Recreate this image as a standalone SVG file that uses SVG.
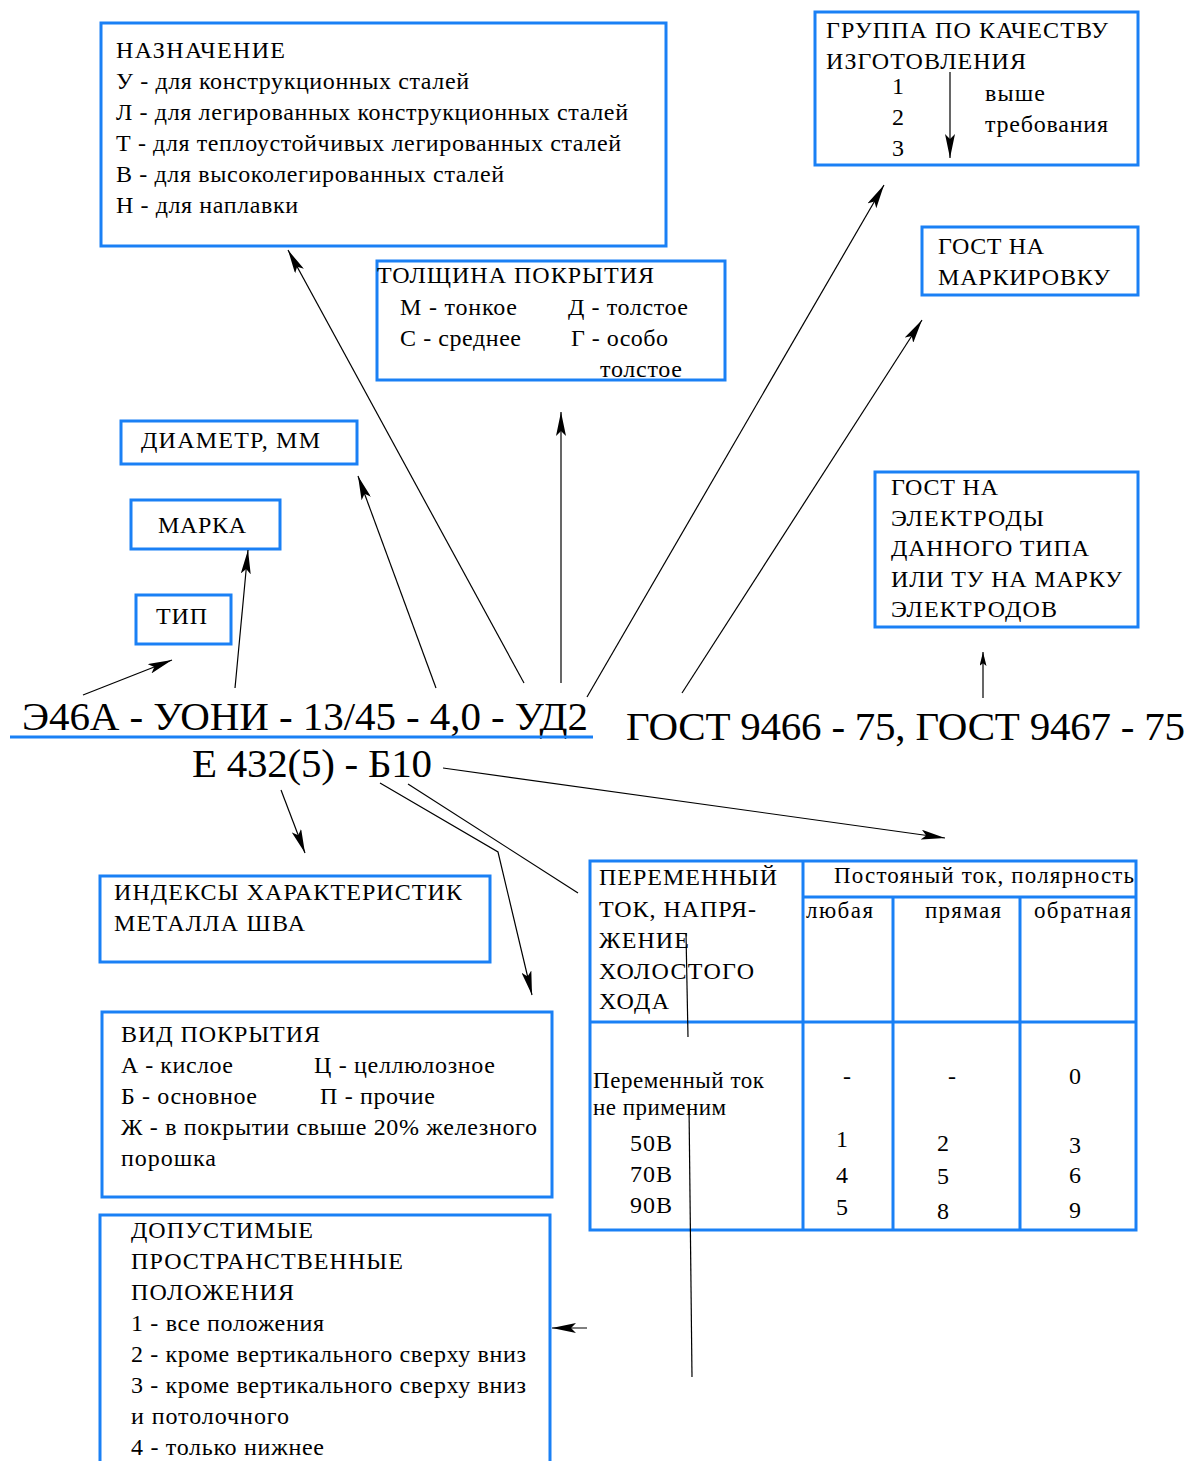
<svg xmlns="http://www.w3.org/2000/svg" width="1190" height="1461" viewBox="0 0 1190 1461">
<defs>
<marker id="ah" viewBox="0 0 24 10" refX="24" refY="5" markerWidth="24" markerHeight="10" markerUnits="userSpaceOnUse" orient="auto"><path d="M0,0 L24,5 L0,10 L5,5 z" fill="#000"/></marker>
<marker id="ahs" viewBox="0 0 20 10" refX="20" refY="5" markerWidth="14" markerHeight="7" markerUnits="userSpaceOnUse" orient="auto"><path d="M0,0 L20,5 L0,10 L4,5 z" fill="#000"/></marker>
</defs>
<style>
.b{fill:none;stroke:#1a80f5;stroke-width:3}
.t{font-family:"Liberation Serif","Times New Roman",serif;font-size:24px;fill:#000}
.s{font-size:23px}
.big{font-family:"Liberation Serif","Times New Roman",serif;font-size:41px;fill:#000}
.c{fill:none;stroke:#000;stroke-width:1.2}
.a{marker-end:url(#ah)}
</style>
<rect width="1190" height="1461" fill="#fff"/>

<g id="naznachenie">
<rect class="b" x="101" y="23" width="565" height="223"/>
<text class="t" x="116" y="58" textLength="169">НАЗНАЧЕНИЕ</text>
<text class="t" x="116" y="89" textLength="353">У - для конструкционных сталей</text>
<text class="t" x="116" y="120" textLength="512">Л - для легированных конструкционных сталей</text>
<text class="t" x="116" y="151" textLength="505">Т - для теплоустойчивых легированных сталей</text>
<text class="t" x="116" y="182" textLength="388">В - для высоколегированных сталей</text>
<text class="t" x="116" y="213" textLength="182">Н - для наплавки</text>
</g>

<g id="tolshchina">
<rect class="b" x="377" y="261" width="348" height="119"/>
<text class="t" x="377" y="283" textLength="277">ТОЛЩИНА ПОКРЫТИЯ</text>
<text class="t" x="400" y="315" textLength="117">М - тонкое</text>
<text class="t" x="568" y="315" textLength="120">Д - толстое</text>
<text class="t" x="400" y="346" textLength="121">С - среднее</text>
<text class="t" x="571" y="346" textLength="97">Г - особо</text>
<text class="t" x="600" y="377" textLength="82">толстое</text>
</g>

<g id="diametr">
<rect class="b" x="121" y="421" width="236" height="43"/>
<text class="t" x="141" y="448" textLength="179">ДИАМЕТР, ММ</text>
</g>

<g id="marka">
<rect class="b" x="131" y="500" width="149" height="49"/>
<text class="t" x="158" y="533" textLength="88">МАРКА</text>
</g>

<g id="tip">
<rect class="b" x="136" y="595" width="95" height="49"/>
<text class="t" x="156" y="624" textLength="51">ТИП</text>
</g>

<g id="gruppa">
<rect class="b" x="815" y="12" width="323" height="153"/>
<text class="t" x="826" y="38" textLength="282">ГРУППА ПО КАЧЕСТВУ</text>
<text class="t" x="826" y="69" textLength="200">ИЗГОТОВЛЕНИЯ</text>
<text class="t" x="892" y="94">1</text>
<text class="t" x="892" y="125">2</text>
<text class="t" x="892" y="156">3</text>
<text class="t" x="985" y="101" textLength="60">выше</text>
<text class="t" x="985" y="132" textLength="123">требования</text>
<line class="c a" x1="950" y1="72" x2="950" y2="158"/>
</g>

<g id="gost-markirovka">
<rect class="b" x="922" y="227" width="216" height="68"/>
<text class="t" x="938" y="254" textLength="106">ГОСТ НА</text>
<text class="t" x="938" y="285" textLength="172">МАРКИРОВКУ</text>
</g>

<g id="gost-elektrody">
<rect class="b" x="875" y="472" width="263" height="155"/>
<text class="t" x="891" y="495" textLength="107">ГОСТ НА</text>
<text class="t" x="891" y="526" textLength="153">ЭЛЕКТРОДЫ</text>
<text class="t" x="891" y="556" textLength="198">ДАННОГО ТИПА</text>
<text class="t" x="891" y="587" textLength="231">ИЛИ ТУ НА МАРКУ</text>
<text class="t" x="891" y="617" textLength="166">ЭЛЕКТРОДОВ</text>
</g>

<g id="oboznachenie">
<text class="big" x="22" y="730" textLength="566">Э46А - УОНИ - 13/45 - 4,0 - УД2</text>
<line x1="10" y1="737" x2="593" y2="737" stroke="#1a80f5" stroke-width="3"/>
<text class="big" x="192" y="777" textLength="240">Е 432(5) - Б10</text>
<text class="big" x="626" y="740" textLength="559">ГОСТ 9466 - 75, ГОСТ 9467 - 75</text>
</g>

<g id="indeksy">
<rect class="b" x="100" y="876" width="390" height="86"/>
<text class="t" x="114" y="900" textLength="348">ИНДЕКСЫ ХАРАКТЕРИСТИК</text>
<text class="t" x="114" y="931" textLength="191">МЕТАЛЛА ШВА</text>
</g>

<g id="vid-pokrytiya">
<rect class="b" x="102" y="1012" width="450" height="185"/>
<text class="t" x="121" y="1042" textLength="199">ВИД ПОКРЫТИЯ</text>
<text class="t" x="121" y="1073" textLength="112">А - кислое</text>
<text class="t" x="314" y="1073" textLength="181">Ц - целлюлозное</text>
<text class="t" x="121" y="1104" textLength="136">Б - основное</text>
<text class="t" x="320" y="1104" textLength="115">П - прочие</text>
<text class="t" x="121" y="1135" textLength="416">Ж - в покрытии свыше 20% железного</text>
<text class="t" x="121" y="1166" textLength="95">порошка</text>
</g>

<g id="polozheniya">
<path class="b" d="M100,1470 V1215 H550 V1470"/>
<text class="t" x="131" y="1238" textLength="182">ДОПУСТИМЫЕ</text>
<text class="t" x="131" y="1269" textLength="272">ПРОСТРАНСТВЕННЫЕ</text>
<text class="t" x="131" y="1300" textLength="163">ПОЛОЖЕНИЯ</text>
<text class="t" x="131" y="1331" textLength="193">1 - все положения</text>
<text class="t" x="131" y="1362" textLength="395">2 - кроме вертикального сверху вниз</text>
<text class="t" x="131" y="1393" textLength="395">3 - кроме вертикального сверху вниз</text>
<text class="t" x="131" y="1424" textLength="158">и потолочного</text>
<text class="t" x="131" y="1455" textLength="193">4 - только нижнее</text>
</g>

<g id="tablica">
<rect class="b" x="590" y="861" width="546" height="369"/>
<line class="b" x1="803" y1="861" x2="803" y2="1230"/>
<line class="b" x1="803" y1="897" x2="1136" y2="897"/>
<line class="b" x1="893" y1="897" x2="893" y2="1230"/>
<line class="b" x1="1020" y1="897" x2="1020" y2="1230"/>
<line class="b" x1="590" y1="1022" x2="1136" y2="1022"/>
<text class="t" x="599" y="885" textLength="178">ПЕРЕМЕННЫЙ</text>
<text class="t" x="599" y="917" textLength="157">ТОК, НАПРЯ-</text>
<text class="t" x="599" y="948" textLength="90">ЖЕНИЕ</text>
<text class="t" x="599" y="979" textLength="155">ХОЛОСТОГО</text>
<text class="t" x="599" y="1009" textLength="70">ХОДА</text>
<text class="t s" x="834" y="883" textLength="300">Постояный ток, полярность</text>
<text class="t s" x="806" y="918" textLength="67">любая</text>
<text class="t s" x="925" y="918" textLength="76">прямая</text>
<text class="t s" x="1034" y="918" textLength="97">обратная</text>
<text class="t s" x="593" y="1088" textLength="171">Переменный ток</text>
<text class="t s" x="593" y="1115" textLength="133">не применим</text>
<text class="t" x="843" y="1084">-</text>
<text class="t" x="948" y="1084">-</text>
<text class="t" x="1069" y="1084">0</text>
<text class="t" x="630" y="1151" textLength="42">50В</text>
<text class="t" x="630" y="1182" textLength="42">70В</text>
<text class="t" x="630" y="1213" textLength="42">90В</text>
<text class="t" x="836" y="1147">1</text>
<text class="t" x="836" y="1183">4</text>
<text class="t" x="836" y="1215">5</text>
<text class="t" x="937" y="1151">2</text>
<text class="t" x="937" y="1184">5</text>
<text class="t" x="937" y="1219">8</text>
<text class="t" x="1069" y="1153">3</text>
<text class="t" x="1069" y="1183">6</text>
<text class="t" x="1069" y="1218">9</text>
</g>

<g id="connectors">
<line class="c a" x1="83" y1="695" x2="172" y2="660"/>
<line class="c a" x1="235" y1="688" x2="248" y2="550"/>
<line class="c a" x1="436" y1="688" x2="358" y2="476"/>
<line class="c a" x1="524" y1="683" x2="288" y2="250"/>
<line class="c a" x1="561" y1="683" x2="561" y2="412"/>
<line class="c a" x1="587" y1="697" x2="884" y2="185"/>
<line class="c a" x1="682" y1="693" x2="922" y2="320"/>
<line class="c" x1="983" y1="698" x2="983" y2="652" marker-end="url(#ahs)"/>
<line class="c a" x1="281" y1="790" x2="305" y2="853"/>
<polyline class="c a" points="380,783 498,852 532,995"/>
<line class="c" x1="408" y1="784" x2="578" y2="893"/>
<line class="c a" x1="443" y1="768" x2="945" y2="838"/>
<line class="c" x1="686" y1="933" x2="688" y2="1037"/>
<line class="c" x1="689" y1="1105" x2="692" y2="1377"/>
<line class="c a" x1="587" y1="1328" x2="552" y2="1328"/>
</g>
</svg>
